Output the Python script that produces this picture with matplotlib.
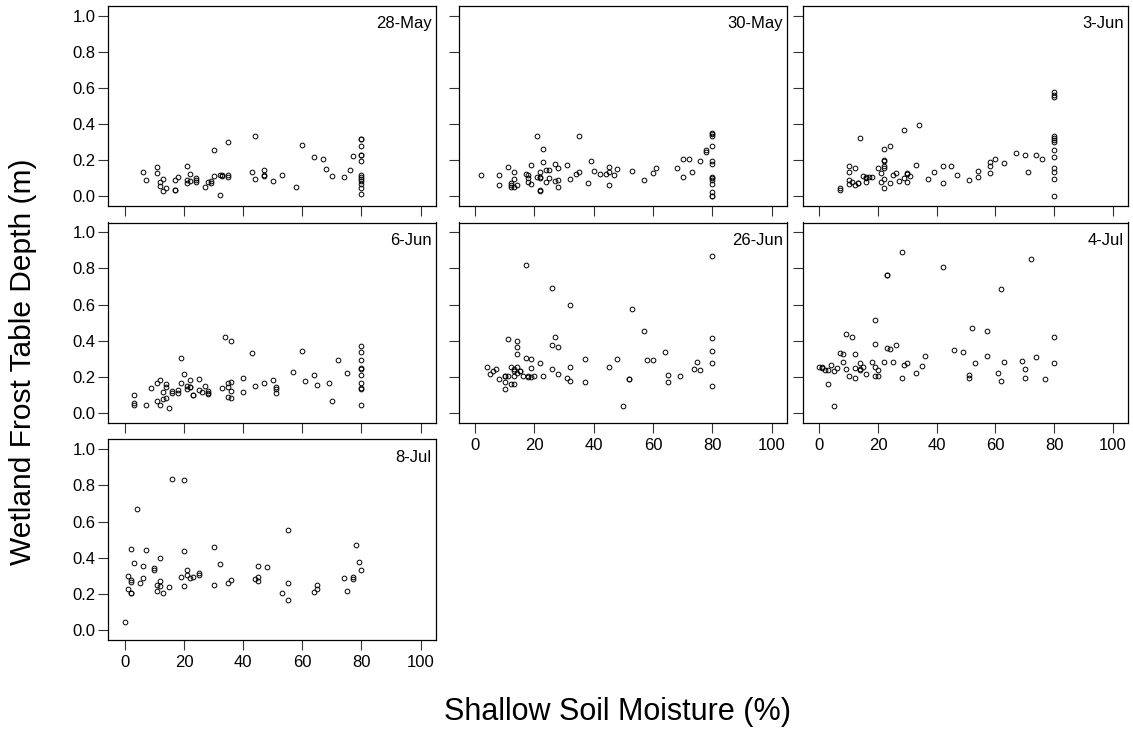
"""
Wetland frost table depth vs. shallow soil moisture, one panel per survey date.
"""

import numpy as np
import matplotlib
matplotlib.use("Agg")
import matplotlib.pyplot as plt

plt.rcParams["font.family"] = ["Liberation Sans", "DejaVu Sans"]

# ── Data (x = soil moisture %, y = frost table depth m) ──────────────────────
x_28may = [6, 7, 11, 11, 12, 12, 13, 13, 14, 17, 17, 17, 18, 21, 21, 21, 22, 22,
           24, 24, 24, 27, 28, 29, 29, 30, 30, 32, 32, 33, 33, 35, 35, 35, 43, 44,
           44, 47, 47, 47, 50, 53, 58, 60, 64, 67, 68, 70, 74, 76, 77,
           80, 80, 80, 80, 80, 80, 80, 80, 80, 80, 80, 80, 80]
y_28may = [0.135, 0.089, 0.161, 0.131, 0.080, 0.059, 0.098, 0.031, 0.044, 0.089,
           0.037, 0.034, 0.107, 0.169, 0.091, 0.074, 0.124, 0.087, 0.100, 0.090,
           0.080, 0.052, 0.078, 0.083, 0.072, 0.257, 0.111, 0.007, 0.120, 0.120,
           0.113, 0.298, 0.117, 0.106, 0.135, 0.333, 0.096, 0.148, 0.120, 0.110,
           0.087, 0.117, 0.054, 0.285, 0.220, 0.204, 0.152, 0.113, 0.107, 0.146,
           0.222,
           0.318, 0.315, 0.276, 0.231, 0.229, 0.196, 0.119, 0.106, 0.094, 0.083,
           0.070, 0.044, 0.011]

x_30may = [2, 8, 8, 11, 12, 12, 12, 13, 13, 13, 14, 17, 18, 18, 18, 19, 19, 21,
           21, 22, 22, 22, 22, 22, 23, 23, 24, 24, 25, 25, 27, 28, 27, 28, 28, 31,
           32, 34, 35, 35, 38, 39, 40, 42, 44, 45, 45, 45, 47, 48, 53, 57, 60, 61,
           68, 70, 70, 72, 73, 76, 78, 78,
           80, 80, 80, 80, 80, 80, 80, 80, 80, 80, 80, 80, 80]
y_30may = [0.120, 0.120, 0.061, 0.163, 0.076, 0.063, 0.052, 0.093, 0.135, 0.050,
           0.061, 0.122, 0.115, 0.102, 0.081, 0.172, 0.067, 0.335, 0.106, 0.109,
           0.100, 0.135, 0.031, 0.033, 0.261, 0.191, 0.146, 0.080, 0.144, 0.102,
           0.176, 0.156, 0.083, 0.091, 0.054, 0.174, 0.096, 0.126, 0.335, 0.137,
           0.076, 0.196, 0.141, 0.122, 0.122, 0.161, 0.135, 0.061, 0.119, 0.152,
           0.141, 0.091, 0.128, 0.154, 0.159, 0.207, 0.109, 0.207, 0.135, 0.194,
           0.256, 0.244,
           0.350, 0.343, 0.335, 0.280, 0.196, 0.181, 0.107, 0.100, 0.091, 0.070,
           0.026, 0.004, 0.000]

x_3jun = [7, 7, 10, 10, 10, 10, 11, 12, 12, 13, 13, 14, 15, 16, 16, 16, 17, 18,
          20, 21, 21, 22, 22, 22, 22, 22, 22, 22, 24, 24, 25, 26, 27, 29, 29, 30,
          30, 30, 31, 34, 33, 37, 39, 42, 42, 45, 47, 51, 54, 54, 58, 58, 58, 60,
          63, 67, 70, 71, 74, 76,
          80, 80, 80, 80, 80, 80, 80, 80, 80, 80, 80, 80, 80]
y_3jun = [0.044, 0.033, 0.170, 0.137, 0.089, 0.069, 0.081, 0.159, 0.065, 0.074,
          0.072, 0.324, 0.113, 0.107, 0.100, 0.078, 0.107, 0.104, 0.154, 0.131,
          0.080, 0.261, 0.200, 0.197, 0.167, 0.154, 0.098, 0.046, 0.281, 0.072,
          0.117, 0.130, 0.087, 0.365, 0.102, 0.130, 0.124, 0.081, 0.111, 0.394,
          0.174, 0.098, 0.133, 0.170, 0.072, 0.165, 0.115, 0.091, 0.139, 0.109,
          0.189, 0.170, 0.131, 0.204, 0.183, 0.237, 0.230, 0.137, 0.230, 0.209,
          0.576, 0.563, 0.552, 0.333, 0.322, 0.311, 0.298, 0.257, 0.215, 0.156,
          0.133, 0.096, 0.002]

x_6jun = [3, 3, 3, 7, 9, 11, 11, 12, 12, 13, 13, 14, 14, 14, 15, 16, 16, 18, 18,
          19, 19, 20, 21, 21, 22, 22, 22, 23, 23, 25, 25, 27, 26, 28, 28, 28, 33,
          34, 36, 35, 35, 36, 36, 35, 36, 40, 40, 43, 44, 47, 50, 51, 51, 51, 57,
          60, 61, 64, 65, 69, 70, 72, 75,
          80, 80, 80, 80, 80, 80, 80, 80, 80, 80]
y_6jun = [0.102, 0.059, 0.043, 0.048, 0.139, 0.165, 0.069, 0.186, 0.046, 0.117,
          0.080, 0.162, 0.143, 0.086, 0.028, 0.125, 0.110, 0.126, 0.112, 0.307,
          0.167, 0.217, 0.149, 0.134, 0.147, 0.145, 0.186, 0.100, 0.098, 0.188,
          0.126, 0.152, 0.117, 0.121, 0.110, 0.104, 0.138, 0.424, 0.400, 0.169,
          0.143, 0.173, 0.121, 0.087, 0.082, 0.193, 0.117, 0.333, 0.149, 0.169,
          0.184, 0.147, 0.132, 0.112, 0.227, 0.346, 0.177, 0.210, 0.158, 0.169,
          0.069, 0.294, 0.223,
          0.372, 0.338, 0.292, 0.249, 0.245, 0.214, 0.169, 0.141, 0.134, 0.048]

x_26jun = [4, 5, 6, 7, 8, 10, 10, 10, 10, 11, 11, 12, 12, 13, 13, 13, 13, 14, 14,
           14, 14, 14, 15, 15, 16, 17, 17, 18, 18, 19, 19, 19, 20, 22, 23, 26, 26,
           26, 27, 28, 28, 31, 32, 32, 32, 37, 37, 45, 48, 50, 52, 52, 53, 57, 58,
           60, 64, 65, 65, 69, 74, 75, 76,
           80, 80, 80, 80, 80]
y_26jun = [0.256, 0.218, 0.236, 0.242, 0.188, 0.207, 0.205, 0.170, 0.133, 0.411,
           0.205, 0.253, 0.164, 0.242, 0.231, 0.203, 0.159, 0.400, 0.365, 0.325,
           0.253, 0.220, 0.234, 0.232, 0.208, 0.817, 0.304, 0.207, 0.201, 0.299,
           0.249, 0.201, 0.207, 0.277, 0.203, 0.690, 0.376, 0.242, 0.423, 0.365,
           0.218, 0.192, 0.598, 0.255, 0.179, 0.299, 0.173, 0.253, 0.299, 0.042,
           0.190, 0.188, 0.577, 0.456, 0.293, 0.293, 0.336, 0.214, 0.173, 0.203,
           0.244, 0.284, 0.238,
           0.869, 0.413, 0.343, 0.275, 0.153]

x_4jul = [0, 1, 1, 2, 3, 3, 4, 5, 5, 6, 7, 8, 8, 9, 9, 10, 11, 12, 12, 12, 14,
          14, 14, 15, 16, 18, 19, 19, 19, 19, 20, 20, 22, 23, 23, 23, 24, 25, 26,
          28, 28, 29, 30, 33, 35, 36, 42, 46, 49, 51, 51, 52, 53, 57, 57, 61, 62,
          62, 63, 69, 70, 70, 72, 74, 77, 80, 80]
y_4jul = [0.258, 0.258, 0.249, 0.240, 0.240, 0.164, 0.264, 0.231, 0.042, 0.249,
          0.334, 0.330, 0.282, 0.439, 0.247, 0.207, 0.421, 0.330, 0.249, 0.194,
          0.275, 0.244, 0.238, 0.253, 0.216, 0.282, 0.515, 0.380, 0.258, 0.208,
          0.238, 0.205, 0.282, 0.766, 0.763, 0.363, 0.354, 0.284, 0.375, 0.889,
          0.197, 0.266, 0.277, 0.220, 0.262, 0.314, 0.808, 0.347, 0.336, 0.214,
          0.197, 0.472, 0.275, 0.452, 0.319, 0.220, 0.686, 0.179, 0.282, 0.290,
          0.244, 0.192, 0.852, 0.312, 0.188, 0.421, 0.279]

x_8jul = [0, 1, 1, 2, 2, 2, 2, 2, 3, 4, 5, 6, 6, 7, 10, 10, 11, 11, 12, 12, 12,
          13, 15, 16, 19, 20, 20, 20, 21, 21, 22, 23, 25, 25, 30, 30, 32, 35, 36,
          44, 45, 45, 45, 48, 53, 55, 55, 55, 64, 65, 65, 74, 75, 77, 77, 78, 79,
          80]
y_8jul = [0.044, 0.302, 0.225, 0.449, 0.278, 0.267, 0.208, 0.203, 0.372, 0.668,
          0.263, 0.357, 0.289, 0.444, 0.346, 0.335, 0.249, 0.219, 0.401, 0.274,
          0.243, 0.204, 0.241, 0.836, 0.296, 0.829, 0.440, 0.245, 0.335, 0.304,
          0.287, 0.293, 0.315, 0.306, 0.462, 0.249, 0.365, 0.263, 0.280, 0.284,
          0.352, 0.296, 0.269, 0.348, 0.206, 0.554, 0.260, 0.168, 0.210, 0.250,
          0.230, 0.289, 0.214, 0.295, 0.285, 0.470, 0.379, 0.335]

DATES = ["28-May", "30-May", "3-Jun", "6-Jun", "26-Jun", "4-Jul", "8-Jul"]
XS = [x_28may, x_30may, x_3jun, x_6jun, x_26jun, x_4jul, x_8jul]
YS = [y_28may, y_30may, y_3jun, y_6jun, y_26jun, y_4jul, y_8jul]

XTICKS = [0, 20, 40, 60, 80, 100]
YTICKS = [0.0, 0.2, 0.4, 0.6, 0.8, 1.0]

# ── Layout (pixel boxes of the panels in a 1133x730 figure) ──────────────────
W, H = 1133, 730
COLS = [(108.3, 436.0), (458.5, 787.0), (803.0, 1128.0)]
ROWS = [(6.0, 206.0), (222.5, 423.0), (439.3, 640.0)]

fig = plt.figure(figsize=(W / 100, H / 100), dpi=100)

for i, (date, xs, ys) in enumerate(zip(DATES, XS, YS)):
    r, c = divmod(i, 3)
    x0, x1 = COLS[c]
    y0, y1 = ROWS[r]
    ax = fig.add_axes([x0 / W, 1 - y1 / H, (x1 - x0) / W, (y1 - y0) / H])

    ax.plot(xs, ys, linestyle="none", marker="o", markersize=3.4,
            markerfacecolor="none", markeredgecolor="black", markeredgewidth=0.7)

    ax.set_xlim(-5.6, 105.2)
    ax.set_ylim(-0.054, 1.054)
    ax.set_xticks(XTICKS)
    ax.set_yticks(YTICKS)
    ax.tick_params(direction="out", length=7.5, width=0.8, color="#333333",
                   labelsize=12)
    ax.tick_params(axis="y", pad=1.5)
    ax.tick_params(axis="x", pad=3)

    # labels only on the outer panels
    if c != 0:
        ax.set_yticklabels([])
    else:
        ax.set_yticklabels([f"{v:.1f}" for v in YTICKS])
    if i in (4, 5, 6):
        ax.set_xticklabels([str(v) for v in XTICKS])
    else:
        ax.set_xticklabels([])

    for sp in ax.spines.values():
        sp.set_linewidth(0.9)

    ax.annotate(date, xy=(1, 1), xycoords="axes fraction",
                xytext=(-3, -7.5), textcoords="offset points",
                ha="right", va="top", fontsize=12)

# ── Axis titles ──────────────────────────────────────────────────────────────
fig.text(23 / W, 1 - 362 / H, "Wetland Frost Table Depth (m)",
         rotation=90, ha="center", va="center", fontsize=21.5)
fig.text(618 / W, 1 - 712 / H, "Shallow Soil Moisture (%)",
         ha="center", va="center", fontsize=22)

fig.savefig("out.png", dpi=100)
plt.close(fig)
